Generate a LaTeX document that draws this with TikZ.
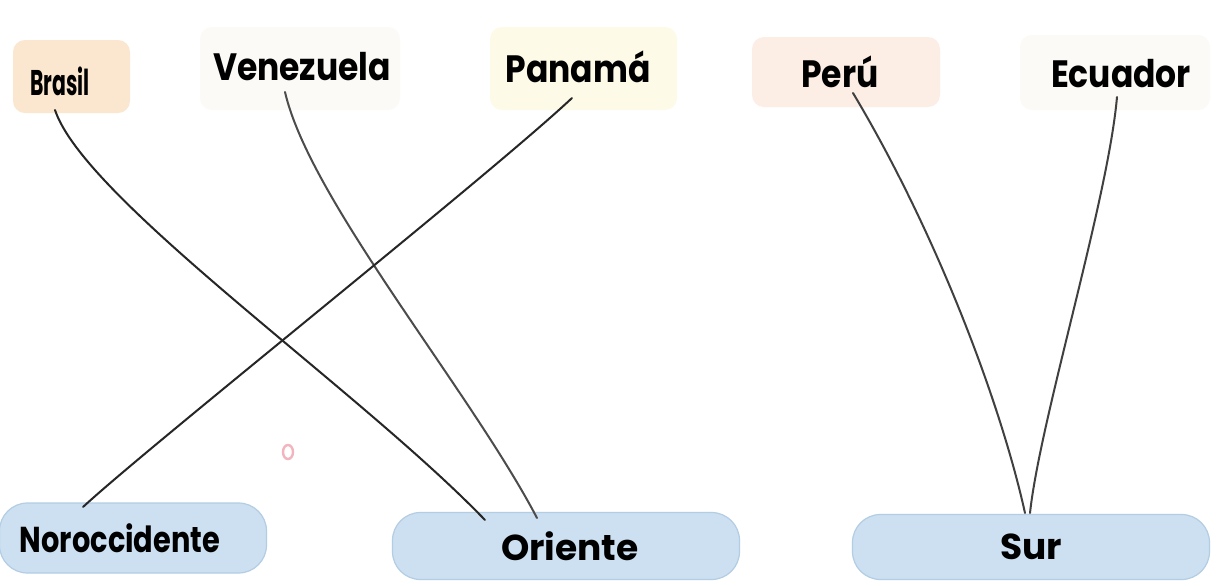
\documentclass[tikz,border=0pt]{standalone}
\usepackage{fontspec}
\setmainfont{Poppins}
\definecolor{regblue}{HTML}{CCE0F2}
\definecolor{regedge}{HTML}{B3CDE3}
\definecolor{peach}{HTML}{FBE6CF}
\definecolor{paleyel}{HTML}{FEFAE8}
\definecolor{palepeach}{HTML}{FCEEE4}
\definecolor{faint}{HTML}{FCFAF7}
\definecolor{pinkmark}{HTML}{F2B5BE}
\begin{document}
\begin{tikzpicture}[x=0.5pt,y=-0.5pt,
  conn/.style={line width=1pt, draw=black!85, line cap=round},
  topbox/.style={rounded corners=6pt},
  regbox/.style={fill=regblue, draw=regedge, line width=0.6pt, rounded corners=14pt, inner sep=0pt,
                 font=\fontsize{18}{20}\selectfont\bfseries},
  lbl/.style={font=\fontsize{17}{20}\selectfont\bfseries, inner sep=0pt, anchor=base},
]
\useasboundingbox[fill=white] (0,0) rectangle (1223,585);

% faint label backgrounds
\fill[peach, topbox] (13,40) rectangle (130,113);
\fill[faint, topbox] (200,27) rectangle (400,110);
\fill[paleyel, topbox] (490,27) rectangle (677,110);
\fill[palepeach, topbox] (752,37) rectangle (940,107);
\fill[faint, topbox] (1020,35) rectangle (1210,110);

% pink mark
\draw[pinkmark, line width=1.2pt] (288,452) ellipse (5 and 7);

% top labels
\node[lbl] (brasil) at (60,95) {\scalebox{0.6}[1.05]{Brasil}};
\node[lbl] (venezuela) at (302,80) {\scalebox{0.97}[1.12]{Venezuela}};
\node[lbl] (panama) at (578,82) {\scalebox{0.97}[1.12]{Panamá}};
\node[lbl] (peru) at (840,87) {\scalebox{0.97}[1.12]{Perú}};
\node[lbl] (ecuador) at (1121,87) {\scalebox{0.97}[1.12]{Ecuador}};

% region boxes
\node[regbox, minimum width=133.5pt, minimum height=35pt] (noroccidente) at (133,538)
  {\raisebox{-3pt}{\scalebox{0.8}[1]{Noroccidente}}\hspace*{13pt}};
\node[regbox, minimum width=173.5pt, minimum height=33.5pt] (oriente) at (566,546)
  {\raisebox{-3.5pt}{\hspace*{4pt}Oriente}};
\node[regbox, minimum width=178.5pt, minimum height=32.5pt] (sur) at (1031,547)
  {\raisebox{-3pt}{Sur}};

% connector ends
\coordinate (b0) at (55,110);
\coordinate (v0) at (285,92);
\coordinate (p0) at (572,98);
\coordinate (pe0) at (853,93);
\coordinate (e0) at (1117,97);
\coordinate (n1) at (83,507);
\coordinate (o1) at (485,520);
\coordinate (o2) at (537,518);
\coordinate (s1) at (1025,513);
\coordinate (s2) at (1030,513);

% connectors
\draw[conn] (b0) .. controls (85,200) and (360,390) .. (o1);
\draw[conn, draw=black!70] (v0) .. controls (310,200) and (470,390) .. (o2);
\draw[conn] (p0) .. controls (490,175) and (150,445) .. (n1);
\draw[conn, draw=black!75] (pe0) .. controls (935,230) and (1000,400) .. (s1);
\draw[conn, draw=black!75] (e0) .. controls (1108,200) and (1040,420) .. (s2);
\end{tikzpicture}
\end{document}
